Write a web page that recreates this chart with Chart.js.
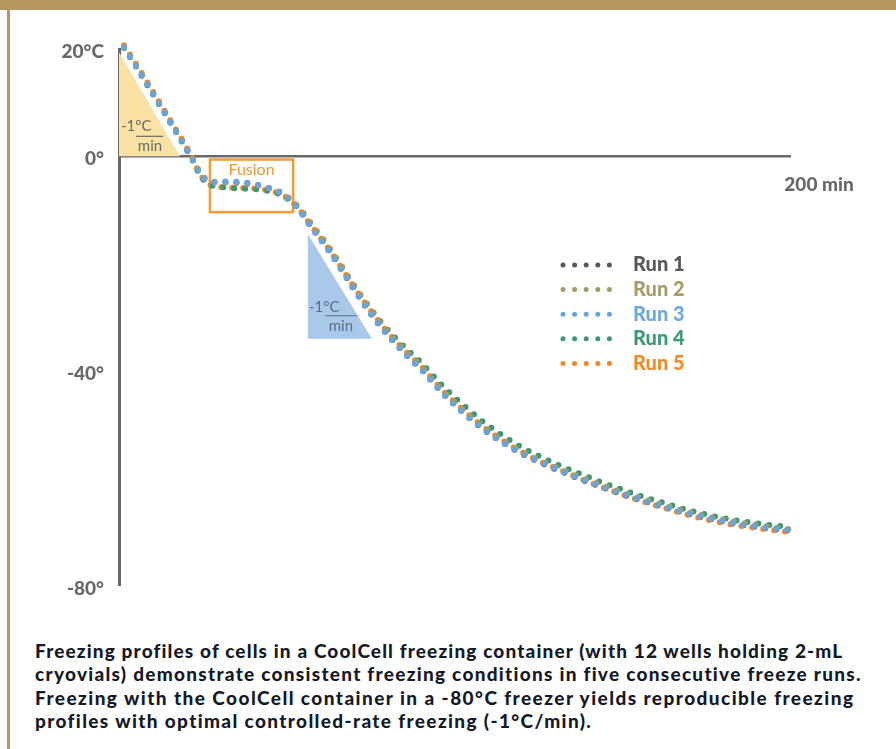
<!DOCTYPE html>
<html>
<head>
<meta charset="utf-8">
<script src="https://cdn.jsdelivr.net/npm/chart.js@4.4.1/dist/chart.umd.min.js"></script>
<style>
  html, body { margin: 0; padding: 0; background: #fff; }
  body { width: 896px; height: 749px; position: relative; overflow: hidden; font-family: Lato, sans-serif; }
  #band { position: absolute; left: 0; top: 0; width: 896px; height: 10px; background: #b7975f; }
  #edge { position: absolute; left: 7px; top: 0; width: 3px; height: 749px; background: #b7975f; }
  #wrap { position: absolute; left: 0; top: 0; width: 896px; height: 612px; }
  #caption { position: absolute; left: 35px; top: 639px; font-family: Lato, sans-serif; font-weight: 900; font-size: 19px; color: #161a28; line-height: 23.4px; }
  #caption div { white-space: nowrap; }
</style>
</head>
<body>
<div id="band"></div>
<div id="edge"></div>
<div id="wrap"><canvas id="c" width="896" height="612"></canvas></div>
<div id="caption"></div>
<script>
// Elapsed time (min) shared by all runs
const times = [1.5, 5, 10, 15, 20, 22, 24, 26, 28, 32, 36, 40, 44, 48, 51, 54, 57, 62, 66, 70,
               74, 78, 82, 86, 90, 96, 102, 108, 114, 120, 126, 132, 138, 144, 150, 156, 163, 170, 180, 190, 200];

// Sample temperature (°C) for each freeze run
const run1 = [20.3, 16.9, 11.8, 6.7, 1.5, -0.6, -3.1, -4.4, -4.8, -4.8, -4.9, -5.2, -5.8, -6.8, -8.1, -10.2, -12.8, -17.0, -20.8, -24.7,
              -28.4, -31.7, -34.6, -37.2, -39.6, -43.8, -47.4, -50.6, -53.2, -55.4, -57.2, -58.8, -60.3, -61.7, -63.0, -64.2, -65.5, -66.7, -68.1, -69.1, -69.8];
const run2 = [20.4, 17.1, 12.0, 6.9, 1.7, -0.4, -2.9, -4.3, -4.8, -4.9, -5.0, -5.3, -5.8, -6.6, -7.9, -9.8, -12.3, -16.4, -20.1, -24.0,
              -27.7, -31.0, -34.0, -36.7, -39.1, -43.4, -47.0, -50.2, -52.8, -55.0, -56.8, -58.4, -59.9, -61.3, -62.6, -63.8, -65.1, -66.3, -67.7, -68.7, -69.5];
const run3 = [20.3, 16.9, 11.8, 6.7, 1.5, -0.6, -3.1, -4.5, -4.8, -4.7, -4.8, -5.1, -5.8, -6.8, -8.2, -10.3, -13.0, -17.2, -20.9, -24.8,
              -28.5, -31.8, -34.7, -37.3, -39.7, -43.9, -47.5, -50.6, -53.2, -55.4, -57.1, -58.7, -60.2, -61.6, -62.9, -64.1, -65.4, -66.6, -68.0, -69.0, -69.7];
const run4 = [20.2, 16.8, 11.7, 6.6, 1.4, -0.8, -3.4, -4.9, -5.5, -5.8, -6.0, -6.1, -6.4, -7.1, -8.3, -10.2, -12.8, -16.8, -20.4, -24.1,
              -27.6, -30.8, -33.6, -36.1, -38.4, -42.5, -46.0, -49.2, -51.9, -54.2, -56.1, -57.8, -59.3, -60.8, -62.1, -63.4, -64.7, -66.0, -67.4, -68.4, -69.1];
const run5 = [20.7, 17.3, 12.2, 7.0, 1.8, -0.5, -3.2, -4.8, -5.5, -5.8, -5.9, -6.0, -6.3, -7.0, -8.2, -10.1, -12.7, -16.8, -20.5, -24.3,
              -27.9, -31.2, -34.1, -36.7, -39.1, -43.3, -46.9, -50.1, -52.8, -55.1, -57.0, -58.6, -60.2, -61.7, -63.0, -64.3, -65.6, -66.9, -68.3, -69.3, -70.0];

const runLabels = ['Run 1', 'Run 2', 'Run 3', 'Run 4', 'Run 5'];

// Axis ticks
const yTickValues = [20, 0, -40, -80];
const yTickLabels = ['20°C', '0°', '-40°', '-80°'];
const xTickValues = [200];
const xTickLabels = ['200 min'];

// Annotations in data units (time, temperature)
const coolingRateA = [[0, 19.4], [0, 0], [18.2, 0]];
const coolingRateB = [[56.3, -14.5], [56.3, -34.0], [75.4, -34.0]];
const fusionRegion = { t0: 27.1, t1: 51.9, hi: -0.6, lo: -10.4 };
const rateText = ['-1°C', 'min'];
const fusionText = 'Fusion';

const captionLines = [
  'Freezing profiles of cells in a CoolCell freezing container (with 12 wells holding 2-mL',
  'cryovials) demonstrate consistent freezing conditions in five consecutive freeze runs.',
  'Freezing with the CoolCell container in a -80°C freezer yields reproducible freezing',
  'profiles with optimal controlled-rate freezing (-1°C/min).'
];
const captionWidths = [807, 826, 818, 556];

const runColors = ['#5c5858', '#a49b6a', '#6aa4dd', '#3c9876', '#f0872a'];
const legendTextColors = ['#5c5858', '#a79c6b', '#70a8e0', '#3f9877', '#f28a23'];
const drawOrder = [4, 1, 0, 2, 3];
const runs = [run1, run2, run3, run4, run5];

const datasets = runs.map((vals, i) => ({
  label: runLabels[i],
  data: times.map((t, k) => ({ x: t, y: vals[k] })),
  borderColor: runColors[i],
  backgroundColor: runColors[i],
  borderWidth: 6,
  borderDash: [0, 11],
  borderCapStyle: 'round',
  pointRadius: 0,
  cubicInterpolationMode: 'monotone',
  fill: false,
  clip: 10,
  order: drawOrder[i]
}));

const annotationPlugin = {
  id: 'annotationPlugin',
  beforeDatasetsDraw(chart) {
    const { ctx, scales: { x, y } } = chart;
    const px = p => [x.getPixelForValue(p[0]), y.getPixelForValue(p[1])];
    ctx.save();
    const tri = (pts, fill) => {
      ctx.beginPath();
      pts.map(px).forEach((q, i) => i ? ctx.lineTo(q[0], q[1]) : ctx.moveTo(q[0], q[1]));
      ctx.closePath();
      ctx.fillStyle = fill;
      ctx.fill();
    };
    const rate = (pts, color, o) => {
      const [l, b] = px(pts[1]);
      ctx.fillStyle = color;
      ctx.strokeStyle = color;
      ctx.font = '15px Lato';
      ctx.textBaseline = 'middle';
      ctx.textAlign = 'left';
      ctx.fillText(rateText[0], l + o.tx, b - o.ty);
      ctx.lineWidth = 1.2;
      ctx.beginPath();
      ctx.moveTo(l + o.l0, b - o.ly);
      ctx.lineTo(l + o.l1, b - o.ly);
      ctx.stroke();
      ctx.textAlign = 'center';
      ctx.fillText(rateText[1], l + o.mx, b - o.my);
    };
    tri(coolingRateA, '#f9e2a3');
    tri(coolingRateB, '#a9c8ea');
    rate(coolingRateA, '#6b6868', { tx: 2, ty: 30, l0: 17, l1: 44, ly: 20, mx: 31, my: 10 });
    rate(coolingRateB, '#5d6d80', { tx: 1, ty: 32, l0: 17, l1: 49, ly: 23, mx: 33, my: 13 });

    const [fx0, fy0] = px([fusionRegion.t0, fusionRegion.hi]);
    const [fx1, fy1] = px([fusionRegion.t1, fusionRegion.lo]);
    ctx.strokeStyle = '#f39b3a';
    ctx.lineWidth = 2.5;
    ctx.strokeRect(fx0, fy0, fx1 - fx0, fy1 - fy0);
    ctx.fillStyle = '#f2962e';
    ctx.font = '16px Lato';
    ctx.textAlign = 'center';
    ctx.textBaseline = 'middle';
    ctx.fillText(fusionText, (fx0 + fx1) / 2, fy0 + 10);
    ctx.restore();
  }
};

const dottedLegend = {
  id: 'dottedLegend',
  afterDatasetsDraw(chart) {
    const { ctx } = chart;
    ctx.save();
    chart.data.datasets.forEach((ds, i) => {
      const cy = 265 + i * 24.6;
      ctx.fillStyle = ds.borderColor;
      for (let k = 0; k < 5; k++) {
        ctx.beginPath();
        ctx.arc(563 + k * 11.6, cy, 2.5, 0, Math.PI * 2);
        ctx.fill();
      }
      ctx.fillStyle = legendTextColors[i];
      ctx.font = '900 20px Lato';
      ctx.textAlign = 'left';
      ctx.textBaseline = 'middle';
      ctx.fillText(ds.label, 633, cy);
    });
    ctx.restore();
  }
};

const axisColor = '#6b6767';

new Chart(document.getElementById('c'), {
  type: 'line',
  data: { datasets },
  options: {
    responsive: false,
    animation: false,
    devicePixelRatio: 1,
    layout: { padding: { left: 0, top: 49, right: 106, bottom: 24 } },
    plugins: { legend: { display: false }, tooltip: { enabled: false } },
    scales: {
      x: {
        type: 'linear',
        min: 0,
        max: 200,
        position: { y: 0 },
        grid: { display: false },
        border: { display: true, color: axisColor, width: 2.5 },
        afterBuildTicks: s => { s.ticks = xTickValues.map(v => ({ value: v })); },
        afterFit: s => { s.paddingLeft = 0; s.paddingRight = 0; },
        ticks: {
          callback: (v) => xTickLabels[xTickValues.indexOf(v)],
          color: axisColor,
          font: { family: 'Lato', weight: 900, size: 19 },
          padding: 9,
          labelOffset: 29,
          maxRotation: 0
        }
      },
      y: {
        type: 'linear',
        min: -80,
        max: 20,
        position: 'left',
        grid: { display: false, drawTicks: false },
        border: { display: true, color: axisColor, width: 3 },
        afterBuildTicks: s => { s.ticks = yTickValues.map(v => ({ value: v })); },
        afterFit: s => { s.width = 119; },
        ticks: {
          callback: (v) => yTickLabels[yTickValues.indexOf(v)],
          color: axisColor,
          font: { family: 'Lato', weight: 900, size: 19 },
          padding: 15,
          labelOffset: 3
        }
      }
    }
  },
  plugins: [annotationPlugin, dottedLegend]
});

// Caption block below the chart
const cap = document.getElementById('caption');
captionLines.forEach((line, i) => {
  const d = document.createElement('div');
  const s = document.createElement('span');
  s.textContent = line;
  d.appendChild(s);
  cap.appendChild(d);
  const w = s.getBoundingClientRect().width;
  s.style.letterSpacing = ((captionWidths[i] - w) / (line.length - 1)).toFixed(3) + 'px';
});
</script>
</body>
</html>
